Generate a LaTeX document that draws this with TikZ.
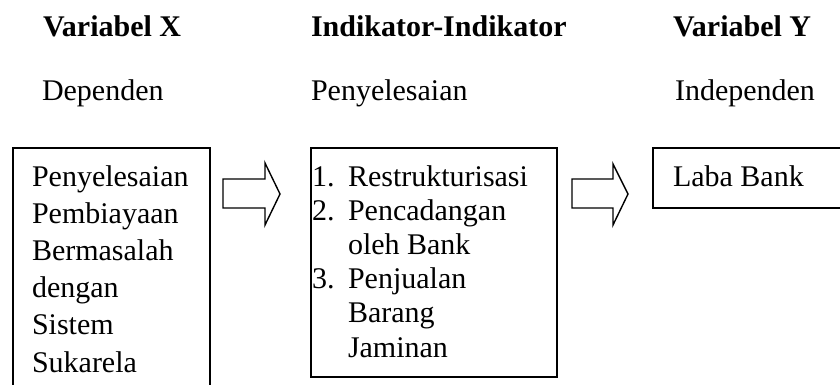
\documentclass[tikz,border=0pt]{standalone}
\usepackage{fontspec}
\setmainfont{Liberation Serif}
\begin{document}
\begin{tikzpicture}[x=1pt,y=-1pt,
  txt/.style={anchor=base west,inner sep=0pt,outer sep=0pt,font=\fontsize{30}{37}\selectfont},
  hdr/.style={txt,font=\fontsize{30}{37}\selectfont\bfseries},
  boxline/.style={draw=black,line width=1.4pt},
  blockarrow/.style={draw=black,line width=1.4pt,line join=miter}]
\useasboundingbox (0,0) rectangle (840,385);
\clip (0,0) rectangle (840,385);
% headers
\node[hdr] (hx) at (43,37) {Variabel X};
\node[hdr] (hi) at (311,37) {Indikator-Indikator};
\node[hdr] (hy) at (673,37) {Variabel Y};
% sub headers
\node[txt] (sx) at (42,101) {Dependen};
\node[txt] (si) at (311,101) {Penyelesaian};
\node[txt] (sy) at (675,101) {Independen};
% boxes
\draw[boxline] (13,148) rectangle (210,400);
\draw[boxline] (311,148) rectangle (557,377);
\draw[boxline] (653,148) rectangle (850,208);
% box texts
\node[txt] (bx) at (32,186) {\parbox[t]{175pt}{\fontsize{30}{37.2}\selectfont\raggedright
Penyelesaian\\Pembiayaan\\Bermasalah\\dengan\\Sistem\\Sukarela}};
\node[txt] (bi) at (312,186) {\parbox[t]{245pt}{\fontsize{30}{34.2}\selectfont\raggedright
\makebox[36pt][l]{1.}Restrukturisasi\\
\makebox[36pt][l]{2.}Pencadangan\\
\makebox[36pt][l]{}oleh Bank\\
\makebox[36pt][l]{3.}Penjualan\\
\makebox[36pt][l]{}Barang\\
\makebox[36pt][l]{}Jaminan}};
\node[txt] (by) at (673,186) {Laba Bank};
% block arrows
\draw[blockarrow] (223,179) -- (265,179) -- (265,163) -- (280,194) -- (265,225) -- (265,208) -- (223,208) -- cycle;
\draw[blockarrow] (572,179) -- (613,179) -- (613,164) -- (628,194) -- (613,225) -- (613,208) -- (572,208) -- cycle;
\end{tikzpicture}
\end{document}
